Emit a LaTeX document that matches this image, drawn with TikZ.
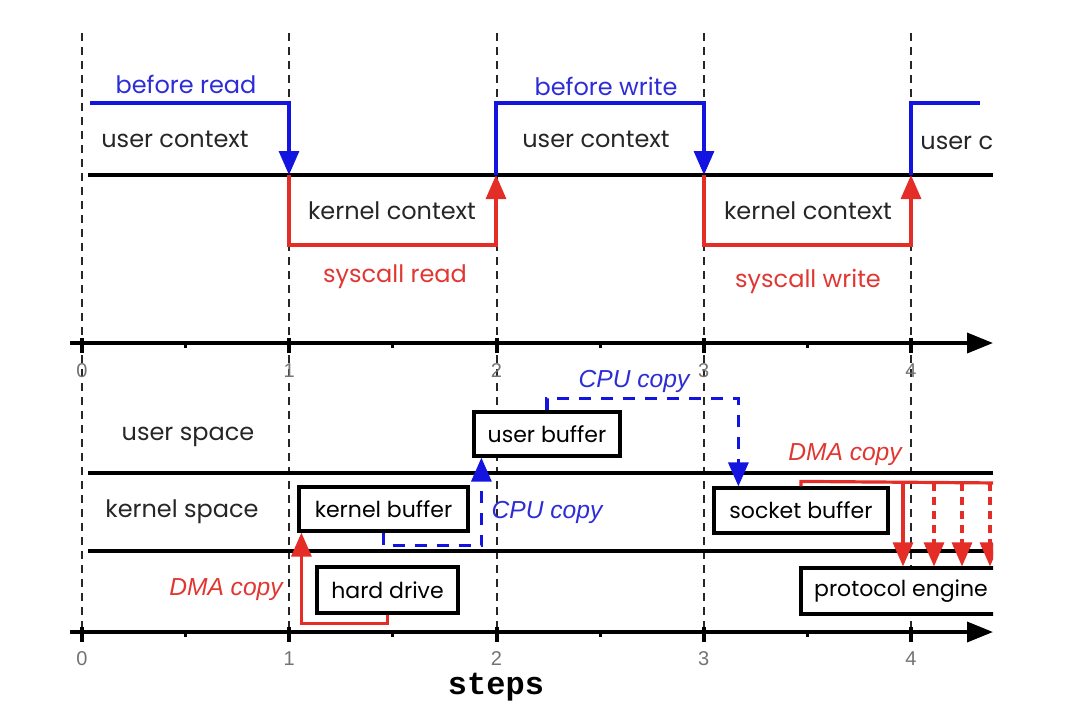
\documentclass[tikz,border=0pt]{standalone}
\usepackage{fontspec}
\setmainfont{Poppins}
\setsansfont{Liberation Sans}
\newfontfamily\stepsfont{Liberation Mono}
\usetikzlibrary{arrows.meta,positioning}

\definecolor{ctxblue}{RGB}{20,20,225}
\definecolor{ctxred}{RGB}{228,45,38}
\definecolor{lblblue}{RGB}{45,45,215}
\definecolor{lblred}{RGB}{225,55,50}

\tikzset{
  stepline/.style={black!85, line width=1pt, dash pattern=on 4pt off 3pt},
  layerline/.style={black, line width=1.6pt},
  axisline/.style={black, line width=1.8pt, -{Triangle[length=13pt,width=10pt]}},
  bluearrow/.style={ctxblue, line width=1.6pt, -{Triangle[length=12pt,width=10pt]}},
  redarrow/.style={ctxred, line width=1.6pt, -{Triangle[length=12pt,width=10pt]}},
  ctxtext/.style={font=\fontsize{12}{14}\selectfont, text=black!85},
  copytext/.style={font=\sffamily\itshape\fontsize{12.3}{14}\selectfont},
  bufbox/.style={draw, fill=white, line width=1.6pt, font=\fontsize{11}{13}\selectfont, inner sep=0pt},
  ticknum/.style={font=\sffamily\fontsize{10}{12}\selectfont, text=black!55, inner sep=0pt}
}

\begin{document}
\begin{tikzpicture}[x=0.5pt, y=-0.5pt]
\useasboundingbox (0,0) rectangle (1066,714);
\begin{scope}
\clip (0,0) rectangle (993,714);

% dashed step lines
\foreach \i in {0,...,4} {
  \pgfmathsetmacro{\sx}{82+207.25*\i}
  \draw[stepline] (\sx,33) -- (\sx,632);
}

% --- context switches ---
\draw[layerline] (88,175) -- (993,175);
\draw[bluearrow] (90,103) -| (289,175);
\draw[redarrow] (289,175) |- (496,245) -- (496,175);
\draw[bluearrow] (496,175) |- (704,103) -- (704,175);
\draw[redarrow] (704,175) |- (911,245) -- (911,175);
\draw[ctxblue, line width=1.6pt] (911,175) |- (980,103);

\node[ctxtext, text=lblblue] (beforeread) at (186,84) {before read};
\node[ctxtext] (userctxA) at (175,139) {user context};
\node[ctxtext] (kernelctxA) at (392,211) {kernel context};
\node[ctxtext, text=lblred] (syscallread) at (395,277) {syscall read};
\node[ctxtext, text=lblblue] (beforewrite) at (606,86) {before write};
\node[ctxtext] (userctxB) at (596,139) {user context};
\node[ctxtext] (kernelctxB) at (808,211) {kernel context};
\node[ctxtext, text=lblred] (syscallwrite) at (808,281) {syscall write};
\node[ctxtext, anchor=west, inner sep=0pt] (userctxC) at (920,143) {user c};

% --- axes ---
\foreach \ay in {343,632} {
  \draw[axisline] (70,\ay) -- (993,\ay);
  \foreach \i in {0,...,4} {
    \pgfmathsetmacro{\sx}{82+207.25*\i}
    \draw[line width=2pt] (\sx,\ay-5) -- (\sx,\ay+10);
  }
  \foreach \i in {0,...,3} {
    \pgfmathsetmacro{\sx}{185.6+207.25*\i}
    \draw[line width=1.5pt] (\sx,\ay) -- (\sx,\ay+5);
  }
}
\foreach \i in {0,...,4} {
  \pgfmathsetmacro{\sx}{82+207.25*\i}
  \node[ticknum] (numA\i) at (\sx,371) {\i};
  \node[ticknum] (numB\i) at (\sx,659) {\i};
}
\node[font=\stepsfont\bfseries\fontsize{16}{18}\selectfont, inner sep=0pt] (steps) at (496,687) {steps};

% --- spaces ---
\draw[layerline] (88,473) -- (993,473);
\draw[layerline] (88,551) -- (993,551);
\node[ctxtext] (userspace) at (188,437) {user space};
\node[ctxtext] (kernelspace) at (182,512) {kernel space};

\node[bufbox, minimum width=73pt, minimum height=22pt] (userbuf) at (547,434) {user buffer};
\node[bufbox, minimum width=84.5pt, minimum height=22pt] (kernelbuf) at (383.5,509) {kernel buffer};
\node[bufbox, minimum width=70.5pt, minimum height=23pt] (harddrive) at (387.5,590) {hard drive};
\node[bufbox, minimum width=87pt, minimum height=22.5pt] (socketbuf) at (801,510.5) {socket buffer};
\node[bufbox, minimum width=100pt, minimum height=23pt] (protocol) at (901,591) {protocol engine};

% copies
\draw[redarrow] (harddrive.south) -- ++(0,9) -| ([xshift=2pt]kernelbuf.south west);
\node[copytext, text=lblred] (dmaA) at (226,590) {DMA copy};

\draw[bluearrow, dash pattern=on 6pt off 5pt] (kernelbuf.south) -- ++(0,13) -| ([xshift=4.5pt]userbuf.south west);
\node[copytext, text=lblblue] (cpuA) at (547,512) {CPU copy};

\draw[bluearrow, dash pattern=on 6pt off 5pt] (userbuf.north) -- ++(0,-12) -| ([xshift=13pt]socketbuf.north west);
\node[copytext, text=lblblue] (cpuB) at (634,381) {CPU copy};

\draw[ctxred, line width=1.6pt] (socketbuf.north) -- ++(0,-5) coordinate (dmastart) -- (1000,483);
\foreach \x [count=\k] in {903,934,962,990} {
  \coordinate (dmaX\k) at (\x,483);
}
\draw[redarrow] (dmaX1) -- (dmaX1 |- protocol.north);
\foreach \k in {2,3,4} {
  \draw[redarrow, dash pattern=on 4pt off 3pt] (dmaX\k) -- (dmaX\k |- protocol.north);
}
\node[copytext, text=lblred] (dmaB) at (845,455) {DMA copy};
\end{scope}
\end{tikzpicture}
\end{document}
